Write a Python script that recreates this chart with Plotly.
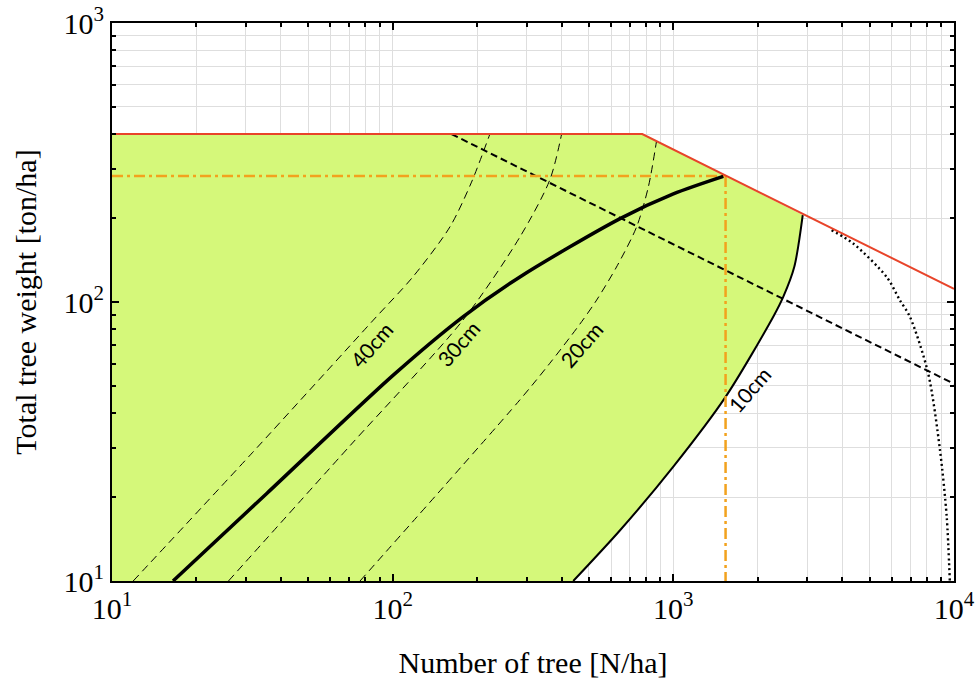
import plotly.graph_objects as go

# ---------------- data ----------------
# upper limit line (red)
limit_N = [10, 775, 10000]
limit_W = [400, 400, 111.4]
# dashed line (black, thick dash)
thin_N = [162, 10000]
thin_W = [400, 50.9]
# optimal point (orange dash-dot guide lines)
opt_N = 1535
opt_W = 283
# main thick curve
main_N = [16.5, 35.6, 100.5, 178, 284, 646, 1000, 1507]
main_W = [10, 20.6, 54.7, 88.5, 123, 199, 244, 282]
# mean-diameter isolines
d40_N = [11.9, 31.6, 85.3, 118, 160, 191, 222]
d40_W = [10, 28.8, 86.1, 123, 186, 269, 400]
d30_N = [26, 70.8, 178, 284, 363, 400]
d30_W = [10, 30.7, 86.1, 171, 274, 400]
d20_N = [76.5, 284, 363, 464, 533, 631, 740, 815, 871]
d20_W = [10, 44.6, 60.3, 83.2, 101.6, 134.9, 186, 259, 377]
d10_N = [440, 646, 1000, 1535, 2270, 2466, 2698, 2891]
d10_W = [10, 15.2, 25.7, 45.7, 88.5, 104.5, 133.7, 205]
# dotted curve
dot_N = [3664, 4375, 5754, 6412, 6966, 8091, 8913, 9419, 9661]
dot_W = [181, 162, 123, 101.6, 88.5, 55.5, 29.5, 17, 10]

# diameter labels and where they sit (log10 N, log10 W)
diam_labels = ["40cm", "30cm", "20cm", "10cm"]
label_logN = [1.923, 2.233, 2.671, 3.269]
label_logW = [1.849, 1.853, 1.849, 1.688]

x_ticks = [10, 100, 1000, 10000]
x_ticktext = ["10<sup>1</sup>", "10<sup>2</sup>", "10<sup>3</sup>", "10<sup>4</sup>"]
y_ticks = [10, 100, 1000]
y_ticktext = ["10<sup>1</sup>", "10<sup>2</sup>", "10<sup>3</sup>"]

# ---------------- figure ----------------
fig = go.Figure()

GREEN = "rgb(213,248,122)"
RED = "rgb(232,68,42)"
ORANGE = "rgb(242,162,30)"

# green feasible region
fill_N = [limit_N[0], limit_N[0], limit_N[1]] + d10_N[::-1] + [limit_N[0]]
fill_W = [d10_W[0], limit_W[0], limit_W[1]] + d10_W[::-1] + [d10_W[0]]
fig.add_trace(go.Scatter(x=fill_N, y=fill_W, mode="lines", fill="toself",
                         fillcolor=GREEN, line=dict(width=0, color=GREEN),
                         hoverinfo="skip", showlegend=False))

thin_dash = "8px,5px"
for xs, ys in [(d40_N, d40_W), (d30_N, d30_W), (d20_N, d20_W)]:
    fig.add_trace(go.Scatter(x=xs, y=ys, mode="lines",
                             line=dict(color="black", width=1, dash=thin_dash, shape="spline", smoothing=0.8),
                             showlegend=False))

# 10cm boundary
fig.add_trace(go.Scatter(x=d10_N, y=d10_W, mode="lines",
                         line=dict(color="black", width=2, shape="spline", smoothing=0.8),
                         showlegend=False))

# thick dashed line
fig.add_trace(go.Scatter(x=thin_N, y=thin_W, mode="lines",
                         line=dict(color="black", width=2, dash="7px,4px"),
                         showlegend=False))

# dotted curve
fig.add_trace(go.Scatter(x=dot_N, y=dot_W, mode="lines",
                         line=dict(color="black", width=2.4, dash="2px,3px", shape="spline", smoothing=0.8),
                         showlegend=False))

# orange guides
fig.add_trace(go.Scatter(x=[limit_N[0], opt_N], y=[opt_W, opt_W], mode="lines",
                         line=dict(color=ORANGE, width=2.5, dash="11px,4px,3px,4px"),
                         showlegend=False))
fig.add_trace(go.Scatter(x=[opt_N, opt_N], y=[opt_W, d10_W[0]], mode="lines",
                         line=dict(color=ORANGE, width=2.5, dash="11px,4px,3px,4px"),
                         showlegend=False))

# main thick curve
fig.add_trace(go.Scatter(x=main_N, y=main_W, mode="lines",
                         line=dict(color="black", width=3.5, shape="spline", smoothing=0.8),
                         showlegend=False))

# red limit line
fig.add_trace(go.Scatter(x=limit_N, y=limit_W, mode="lines",
                         line=dict(color=RED, width=2),
                         showlegend=False))

for t, lx, ly in zip(diam_labels, label_logN, label_logW):
    fig.add_annotation(x=lx, y=ly, xref="x", yref="y", text=t, showarrow=False,
                       textangle=-49, font=dict(family="Lato", size=21, color="black"))

minor_x = [m * 10 ** k for k in range(1, 4) for m in range(2, 10)]
minor_y = [m * 10 ** k for k in range(1, 3) for m in range(2, 10)]

axis_common = dict(
    type="log", showline=True, linecolor="black", linewidth=2, mirror="allticks",
    ticks="inside", ticklen=7, tickwidth=2, tickcolor="black",
    showgrid=True, gridcolor="rgb(222,222,222)", gridwidth=1, zeroline=False,
    tickfont=dict(family="Liberation Serif", size=30, color="black"),
)

fig.update_xaxes(**axis_common, range=[1, 4], tickmode="array", tickvals=x_ticks,
                 ticktext=x_ticktext,
                 minor=dict(tickmode="array", tickvals=minor_x, ticks="inside", ticklen=4,
                            tickwidth=1.5, tickcolor="black", showgrid=True,
                            gridcolor="rgb(222,222,222)", gridwidth=1),
                 title=dict(text="Number of tree [N/ha]", standoff=28,
                            font=dict(family="Liberation Serif", size=30, color="black")))
fig.update_yaxes(**axis_common, range=[1, 3], tickmode="array", tickvals=y_ticks,
                 ticktext=y_ticktext,
                 minor=dict(tickmode="array", tickvals=minor_y, ticks="inside", ticklen=4,
                            tickwidth=1.5, tickcolor="black", showgrid=True,
                            gridcolor="rgb(222,222,222)", gridwidth=1),
                 title=dict(text="Total tree weight [ton/ha]", standoff=18,
                            font=dict(family="Liberation Serif", size=30, color="black")))

fig.update_layout(
    width=975, height=691,
    margin=dict(l=112, r=21, t=23, b=110, autoexpand=False),
    plot_bgcolor="white", paper_bgcolor="white",
    showlegend=False,
)

fig.write_html("out.html")
